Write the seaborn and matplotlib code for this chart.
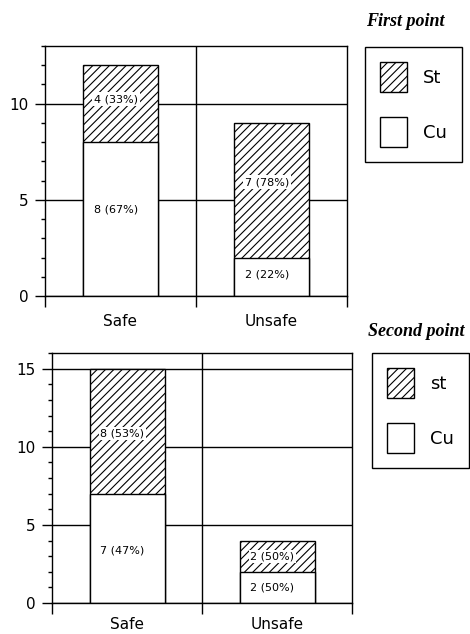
import matplotlib
matplotlib.use("Agg")
import matplotlib.pyplot as plt
from matplotlib.patches import Patch
from matplotlib.ticker import MultipleLocator
import seaborn as sns

# values
categories = ["Safe", "Unsafe"]
cu_first = [8, 2]
st_first = [4, 7]
cu_second = [7, 2]
st_second = [8, 2]
legend_first = ["St", "Cu"]
legend_second = ["st", "Cu"]

sns.set_style("white")
plt.rcParams["font.family"] = ["DejaVu Sans"]
plt.rcParams["hatch.linewidth"] = 0.8
plt.rcParams["text.color"] = "black"
plt.rcParams["xtick.color"] = "black"
plt.rcParams["ytick.color"] = "black"

fig = plt.figure(figsize=(4.7, 6.34), dpi=100)
W, H = 470, 634


def px_axes(left, top, right, bottom):
    return fig.add_axes([left / W, 1 - bottom / H, (right - left) / W, (bottom - top) / H])


def panel(ax, cu, st, ymax, frac, xpad):
    total = [c + s for c, s in zip(cu, st)]
    # stacked bars: hatched totals first, then the white Cu part over them
    sns.barplot(x=categories, y=total, color="white", saturation=1, edgecolor="black",
                linewidth=1, hatch="////", width=0.5, errorbar=None, ax=ax)
    sns.barplot(x=categories, y=cu, color="white", saturation=1, edgecolor="black",
                linewidth=1, width=0.5, errorbar=None, ax=ax)
    for i in range(len(categories)):
        box = dict(facecolor="white", edgecolor="none", pad=1.2)
        ax.text(i - 0.03, cu[i] * frac, f"{cu[i]} ({round(100 * cu[i] / total[i])}%)",
                ha="center", va="center", fontsize=8, color="black", bbox=box)
        ax.text(i - 0.03, cu[i] + st[i] * frac, f"{st[i]} ({round(100 * st[i] / total[i])}%)",
                ha="center", va="center", fontsize=8, color="black", bbox=box)

    ax.set_xlim(-0.5, 1.5)
    ax.set_ylim(0, ymax)
    ax.set_yticks(range(0, ymax, 5))
    ax.yaxis.set_minor_locator(MultipleLocator(1))
    ax.tick_params(axis="y", which="major", direction="out", length=7, width=1,
                   color="black", labelcolor="black", labelsize=11, pad=5, left=True)
    ax.tick_params(axis="y", which="minor", direction="out", length=3, width=1,
                   color="black", left=True)
    ax.set_xticks([-0.5, 0.5, 1.5], labels=["", "", ""])
    ax.set_xticks([0, 1], labels=categories, minor=True)
    ax.tick_params(axis="x", which="major", direction="out", length=8, width=1,
                   color="black", bottom=True)
    ax.tick_params(axis="x", which="minor", length=0, labelsize=11, labelcolor="black", pad=xpad)
    ax.grid(axis="y", which="major", color="black", linewidth=1)
    ax.axvline(0.5, color="black", linewidth=1, zorder=0.5)
    ax.set_axisbelow(True)
    for sp in ax.spines.values():
        sp.set_visible(True)
        sp.set_color("black")
        sp.set_linewidth(1)
    ax.set_xlabel("")
    ax.set_ylabel("")


def legend_box(ax, labels, left, top, title, tx, ty):
    handles = [Patch(facecolor="white", edgecolor="black", hatch="////", linewidth=1),
               Patch(facecolor="white", edgecolor="black", linewidth=1)]
    leg = ax.legend(handles, labels, loc="upper left", bbox_to_anchor=(left / W, 1 - top / H),
                    bbox_transform=fig.transFigure, borderaxespad=0, fontsize=13,
                    handlelength=1.45, handleheight=2.19, handletextpad=0.9,
                    labelspacing=1.35, borderpad=0.85, fancybox=False, framealpha=1)
    leg.get_frame().set_edgecolor("black")
    leg.get_frame().set_linewidth(1)
    fig.text(tx / W, 1 - ty / H, title, ha="center", va="center", fontsize=13,
             fontweight="bold", fontstyle="italic", family=["Liberation Serif"])


ax1 = px_axes(45, 46, 347, 296)
panel(ax1, cu_first, st_first, 13, 0.56, 13)
legend_box(ax1, legend_first, 365, 47, "First point", 405, 22)

ax2 = px_axes(52, 353, 352, 603)
panel(ax2, cu_second, st_second, 16, 0.48, 10)
legend_box(ax2, legend_second, 372, 353, "Second point", 416, 332)

fig.savefig("out.png", dpi=100)
